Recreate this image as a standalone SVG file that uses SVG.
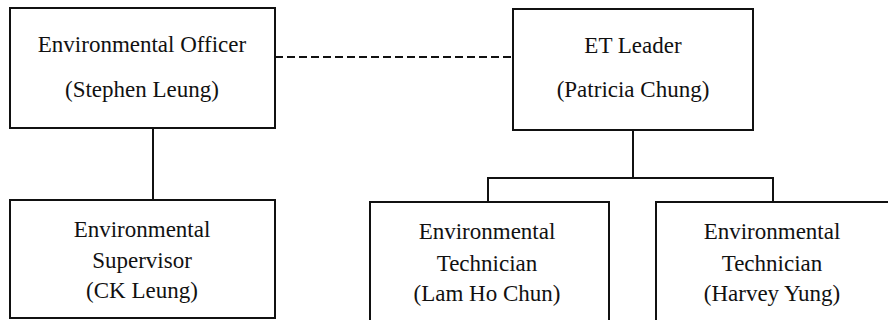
<svg xmlns="http://www.w3.org/2000/svg" width="888" height="320" viewBox="0 0 888 320">
<style>
.box{fill:#fff;stroke:#111;stroke-width:2}
.ln{fill:none;stroke:#111;stroke-width:2}
.dash{fill:none;stroke:#111;stroke-width:2;stroke-dasharray:8 4}
text{font-family:"Liberation Serif","Times New Roman",serif;font-size:23px;fill:#111;text-anchor:middle}
</style>
<rect width="888" height="320" fill="#fff"/>
<g id="connectors">
<line class="dash" x1="275" y1="57" x2="513" y2="57"/>
<line class="ln" x1="153" y1="128" x2="153" y2="200"/>
<line class="ln" x1="633" y1="130" x2="633" y2="178"/>
<polyline class="ln" points="488,202 488,178 773,178 773,202"/>
</g>
<g id="officer">
<rect class="box" x="10" y="8" width="265" height="120"/>
<text x="142" y="52">Environmental Officer</text>
<text x="142" y="97">(Stephen Leung)</text>
</g>
<g id="leader">
<rect class="box" x="513" y="9" width="240" height="121"/>
<text x="633" y="53">ET Leader</text>
<text x="633" y="97">(Patricia Chung)</text>
</g>
<g id="supervisor">
<rect class="box" x="10" y="200" width="265" height="118"/>
<text x="142" y="237">Environmental</text>
<text x="142" y="268">Supervisor</text>
<text x="142" y="298">(CK Leung)</text>
</g>
<g id="tech1">
<rect class="box" x="370" y="202" width="239" height="122"/>
<text x="487" y="239">Environmental</text>
<text x="487" y="271">Technician</text>
<text x="487" y="301">(Lam Ho Chun)</text>
</g>
<g id="tech2">
<rect class="box" x="656" y="202" width="240" height="122"/>
<text x="772" y="239">Environmental</text>
<text x="772" y="271">Technician</text>
<text x="772" y="301">(Harvey Yung)</text>
</g>
</svg>
